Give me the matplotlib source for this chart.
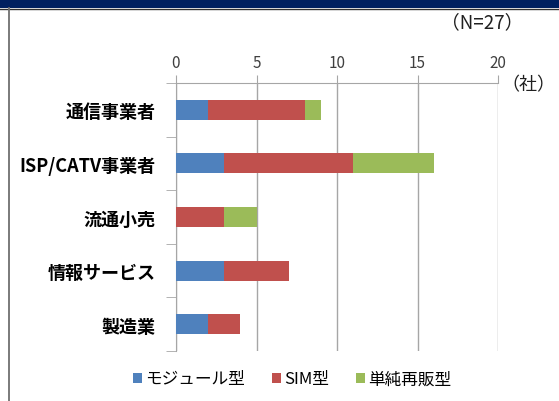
import matplotlib
matplotlib.use("Agg")
import matplotlib.pyplot as plt
from matplotlib.patches import Rectangle
from matplotlib.lines import Line2D
import numpy as np

plt.rcParams['font.family'] = ['Noto Sans CJK JP', 'DejaVu Sans']

categories = ["通信事業者", "ISP/CATV事業者", "流通小売", "情報サービス", "製造業"]
series_names = ["モジュール型", "SIM型", "単純再販型"]
module = [2, 3, 0, 3, 2]
sim = [6, 8, 3, 4, 2]
resale = [1, 5, 2, 0, 0]
xticks = [0, 5, 10, 15, 20]
colors = ["#4F81BD", "#C0504D", "#9BBB59"]

W, H = 559, 402
fig = plt.figure(figsize=(W/100, H/100), dpi=100)
fig.patch.set_facecolor("white")

# top navy band and left border
fig.patches.append(Rectangle((0, 1 - 9/H), 1, 9/H, transform=fig.transFigure,
                             facecolor="#002060", edgecolor="none", zorder=0))
fig.add_artist(Line2D([0, 1], [1 - 9.5/H, 1 - 9.5/H], transform=fig.transFigure,
                      color="#303030", lw=1.0))
fig.add_artist(Line2D([9/W, 9/W], [0, 1 - 9/H], transform=fig.transFigure,
                      color="#707070", lw=1.3))

ax = fig.add_axes([176/W, 1 - 352/H, (498-176)/W, (352-84)/H])
y = np.arange(len(categories))
left = np.zeros(len(categories))
for vals, c, name in zip([module, sim, resale], colors, series_names):
    ax.barh(y, vals, left=left, height=0.375, color=c, label=name, zorder=3)
    left = left + np.array(vals)

ax.set_xlim(0, 20)
ax.set_ylim(len(categories) - 0.5, -0.5)
ax.set_xticks(xticks)
ax.xaxis.tick_top()
ax.tick_params(axis='x', direction='out', length=6, color="#A6A6A6",
               labelsize=11, labelcolor="#404040", pad=3)
ax.set_yticks(y)
ax.set_yticklabels(categories, fontsize=13, fontweight='bold')
ax.tick_params(axis='y', length=0, pad=14.5)
ax.set_yticks(np.arange(-0.5, len(categories) + 0.5, 1), minor=True)
ax.tick_params(axis='y', which='minor', length=7, color="#A6A6A6", direction='out')
ax.grid(axis='x', color="#A6A6A6", lw=1.0, zorder=0)
for s in ["right", "bottom"]:
    ax.spines[s].set_visible(False)
ax.spines["top"].set_color("#A6A6A6")
ax.spines["left"].set_color("#A6A6A6")

fig.text(482/W, 1 - 23/H, "（N=27）", fontsize=13.5, ha="center", va="center", color="#202020")
fig.text(528/W, 1 - 85/H, "（社）", fontsize=13, ha="center", va="center", color="#202020")

handles, labels = ax.get_legend_handles_labels()
fig.legend(handles, labels, loc="center", bbox_to_anchor=(292/W, 1 - 380/H),
           ncol=3, frameon=False, fontsize=12, handlelength=0.55, handleheight=0.55,
           handletextpad=0.2, columnspacing=1.6)

fig.savefig("out.png", dpi=100)
